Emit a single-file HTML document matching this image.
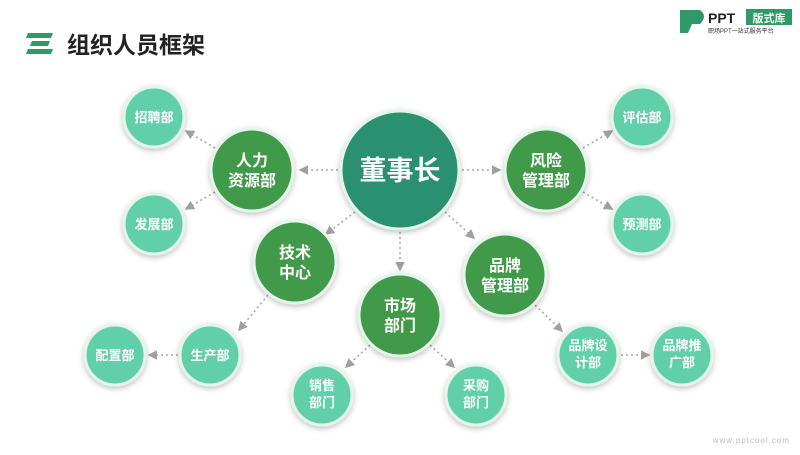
<!DOCTYPE html>
<html><head><meta charset="utf-8"><style>
html,body{margin:0;padding:0;background:#fff;}
body{width:800px;height:450px;overflow:hidden;font-family:"Liberation Sans","Noto Sans CJK SC",sans-serif;}
</style></head><body>
<svg width="800" height="450" xmlns="http://www.w3.org/2000/svg" font-family="'Liberation Sans','Noto Sans CJK SC',sans-serif">
<defs>
<marker id="a" markerWidth="6" markerHeight="6" refX="5" refY="3" orient="auto"><path d="M0,0 L6,3 L0,6 z" fill="#a0a0a0"/></marker>
<filter id="s" x="-30%" y="-30%" width="160%" height="160%"><feDropShadow dx="0" dy="2" stdDeviation="3" flood-color="#000" flood-opacity="0.25"/></filter>
</defs>
<!-- header -->
<path d="M28,33 L53,33 L51,38 L26,38 z" fill="#2e9a66"/>
<path d="M32,41 L50,41 L48,46 L30,46 z" fill="#2e9a66"/>
<path d="M28,49 L53,49 L51,54 L26,54 z" fill="#2e9a66"/>
<text x="67" y="53" font-size="23" font-weight="bold" fill="#222">组织人员框架</text>
<path d="M680,10 L700,10 Q708,16 700,24 L692,24 L688,33 L680,33 z" fill="#2e9a66"/>
<text x="708" y="23" font-size="14" font-weight="bold" fill="#222">PPT</text>
<rect x="746" y="9" width="46" height="16" fill="#2e9a66"/>
<text x="769" y="22" font-size="11" font-weight="bold" fill="#fff" text-anchor="middle">版式库</text>
<text x="708" y="33" font-size="6" fill="#333">职场PPT一站式服务平台</text>
<text x="790" y="443" font-size="8" fill="#bbb" text-anchor="end" letter-spacing="1">www.pptcool.com</text>
<!-- connectors -->
<g stroke="#a8a8a8" stroke-width="1.6" stroke-dasharray="2 3" marker-end="url(#a)" fill="none">
<line x1="338" y1="170" x2="300" y2="170"/>
<line x1="462" y1="170" x2="500" y2="170"/>
<line x1="355" y1="212" x2="326" y2="234"/>
<line x1="400" y1="232" x2="400" y2="270"/>
<line x1="445" y1="212" x2="474" y2="238"/>
<line x1="215" y1="148" x2="186" y2="131"/>
<line x1="215" y1="192" x2="186" y2="209"/>
<line x1="583" y1="148" x2="612" y2="131"/>
<line x1="583" y1="192" x2="612" y2="209"/>
<line x1="268" y1="295" x2="239" y2="330"/>
<line x1="178" y1="355" x2="149" y2="355"/>
<line x1="370" y1="345" x2="346" y2="367"/>
<line x1="430" y1="345" x2="454" y2="367"/>
<line x1="535" y1="305" x2="562" y2="331"/>
<line x1="621" y1="355" x2="649" y2="355"/>
</g>
<!-- circles -->
<g filter="url(#s)" stroke="#e4f5ea" stroke-width="3">
<circle cx="400" cy="170" r="59" fill="#2a9070"/>
<g fill="#3f9a4a">
<circle cx="252" cy="170" r="41"/><circle cx="546" cy="170" r="41"/>
<circle cx="295" cy="262" r="41"/><circle cx="400" cy="315" r="41"/><circle cx="505" cy="275" r="41"/>
</g>
<g fill="#62cfab">
<circle cx="154" cy="117" r="30"/><circle cx="154" cy="224" r="30"/>
<circle cx="642" cy="117" r="30"/><circle cx="642" cy="224" r="30"/>
<circle cx="210" cy="355" r="30"/><circle cx="115" cy="355" r="30"/>
<circle cx="322" cy="395" r="30"/><circle cx="476" cy="395" r="30"/>
<circle cx="588" cy="355" r="30"/><circle cx="682" cy="355" r="30"/>
</g>
</g>
<g fill="#fff" font-weight="bold" text-anchor="middle">
<text x="400" y="180" font-size="27">董事长</text>
<g font-size="16">
<text x="252" y="166">人力</text><text x="252" y="186">资源部</text>
<text x="546" y="166">风险</text><text x="546" y="186">管理部</text>
<text x="295" y="258">技术</text><text x="295" y="278">中心</text>
<text x="400" y="311">市场</text><text x="400" y="331">部门</text>
<text x="505" y="271">品牌</text><text x="505" y="291">管理部</text>
</g>
<g font-size="13">
<text x="154" y="122">招聘部</text><text x="154" y="229">发展部</text>
<text x="642" y="122">评估部</text><text x="642" y="229">预测部</text>
<text x="210" y="360">生产部</text><text x="115" y="360">配置部</text>
<text x="322" y="390">销售</text><text x="322" y="407">部门</text>
<text x="476" y="390">采购</text><text x="476" y="407">部门</text>
<text x="588" y="350">品牌设</text><text x="588" y="367">计部</text>
<text x="682" y="350">品牌推</text><text x="682" y="367">广部</text>
</g>
</g>
</svg>
</body></html>
